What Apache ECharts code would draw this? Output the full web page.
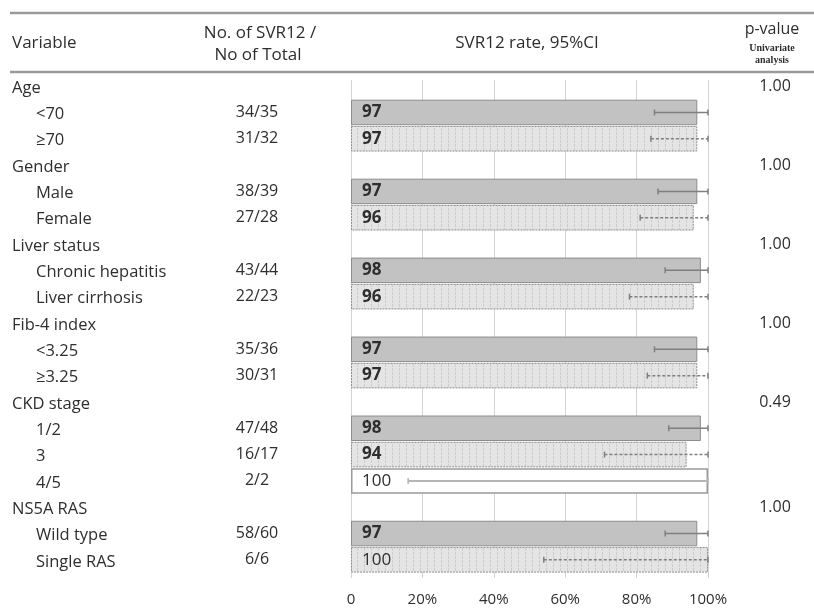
<!DOCTYPE html>
<html>
<head>
<meta charset="utf-8">
<script src="https://cdn.jsdelivr.net/npm/echarts@6/dist/echarts.min.js"></script>
<style>
  html, body { margin: 0; padding: 0; background: #ffffff; }
  #chart { width: 814px; height: 608px; }
</style>
</head>
<body>
<div id="chart"></div>
<script>
// Subgroup table: group headers have no rate.
const rowLabels = ['Age', '<70', '≥70', 'Gender', 'Male', 'Female', 'Liver status',
  'Chronic hepatitis', 'Liver cirrhosis', 'Fib-4 index', '<3.25', '≥3.25', 'CKD stage',
  '1/2', '3', '4/5', 'NS5A RAS', 'Wild type', 'Single RAS'];
const counts = ['', '34/35', '31/32', '', '38/39', '27/28', '', '43/44', '22/23', '',
  '35/36', '30/31', '', '47/48', '16/17', '2/2', '', '58/60', '6/6'];
const rates = [null, 97, 97, null, 97, 96, null, 98, 96, null, 97, 97, null, 98, 94, 100, null, 97, 100];
const ciLower = [null, 85, 84, null, 86, 81, null, 88, 78, null, 85, 83, null, 89, 71, 16, null, 88, 54];
const ciUpper = [null, 100, 100, null, 100, 100, null, 100, 100, null, 100, 100, null, 100, 100, 100, null, 100, 100];
const pValues = ['1.00', '', '', '1.00', '', '', '1.00', '', '', '1.00', '', '', '0.49', '', '', '', '1.00', '', ''];
const xTickLabels = ['0', '20%', '40%', '60%', '80%', '100%'];

const FONT = '"Open Sans", Lato, sans-serif';
const TEXT = '#2e2e2e';

// position of each row inside its group (0 = first subgroup)
const rankInGroup = [];
let lastHeader = -1;
rates.forEach((v, i) => {
  if (v === null) { lastHeader = i; rankInGroup.push(-1); }
  else rankInGroup.push(i - lastHeader - 1);
});

// light fill with faint vertical dotted hatching
function hatchPattern() {
  const c = document.createElement('canvas');
  c.width = 7; c.height = 4;
  const g = c.getContext('2d');
  g.fillStyle = '#e4e4e4';
  g.fillRect(0, 0, 7, 4);
  g.fillStyle = '#cdcdcd';
  g.fillRect(0, 0, 1, 3);
  return c;
}
const hatch = hatchPattern();

function barStyle(rank) {
  if (rank === 0) return { color: '#c2c2c2', borderColor: '#8c8c8c', borderWidth: 1 };
  if (rank === 1) return { color: { image: hatch, repeat: 'repeat' }, borderColor: '#8f8f8f', borderWidth: 1, borderType: [2, 1] };
  return { color: '#ffffff', borderColor: '#9a9a9a', borderWidth: 1.5 };
}

const barData = rates.map((v, i) => v === null ? '-' : {
  value: v,
  itemStyle: barStyle(rankInGroup[i]),
  label: { fontWeight: v >= 100 ? 'normal' : 'bold' }
});

const ciData = [];
rates.forEach((v, i) => {
  if (v !== null) ciData.push([i, ciLower[i], ciUpper[i], rankInGroup[i]]);
});

const chart = echarts.init(document.getElementById('chart'), null, { renderer: 'canvas' });

chart.setOption({
  backgroundColor: '#ffffff',
  animation: false,
  textStyle: { fontFamily: FONT },
  grid: [
    { left: 351, right: 106, top: 73, height: 500, outerBoundsMode: 'none' },
    { left: 351, right: 106, top: 80, bottom: 30, outerBoundsMode: 'none' }
  ],
  xAxis: [
    { gridIndex: 0, type: 'value', min: 0, max: 100, show: false },
    {
      gridIndex: 1, type: 'value', min: 0, max: 100, interval: 20,
      axisLine: { show: false }, axisTick: { show: false },
      splitLine: { show: true, lineStyle: { color: '#d4d4d4', width: 1 } },
      axisLabel: {
        margin: 14, color: TEXT, fontSize: 15, fontFamily: FONT,
        formatter: (val) => xTickLabels[Math.round(val / 20)]
      }
    }
  ],
  yAxis: [
    {
      gridIndex: 0, type: 'category', data: rowLabels, inverse: true,
      axisLine: { show: false }, axisTick: { show: false }, splitLine: { show: false },
      axisLabel: {
        align: 'left', margin: 339, fontFamily: FONT,
        formatter: (val, idx) => rates[idx] === null ? '{h|' + val + '}' : '{s|' + val + '}',
        rich: {
          h: { color: TEXT, fontSize: 16.5, fontFamily: FONT, padding: [4, 0, 0, 0] },
          s: { color: TEXT, fontSize: 16.5, fontFamily: FONT, padding: [4, 0, 0, 24] }
        }
      }
    },
    {
      gridIndex: 0, type: 'category', data: counts, inverse: true, position: 'left',
      axisLine: { show: false }, axisTick: { show: false }, splitLine: { show: false },
      axisLabel: { align: 'center', margin: 94, color: TEXT, fontSize: 16, fontFamily: FONT, padding: [4, 0, 0, 0] }
    },
    {
      gridIndex: 0, type: 'category', data: pValues, inverse: true, position: 'right',
      axisLine: { show: false }, axisTick: { show: false }, splitLine: { show: false },
      axisLabel: { align: 'center', margin: 67, color: TEXT, fontSize: 16, fontFamily: FONT }
    },
    { gridIndex: 1, type: 'value', show: false }
  ],
  series: [
    {
      type: 'bar', xAxisIndex: 0, yAxisIndex: 0,
      data: barData, barCategoryGap: '3%',
      label: {
        show: true, position: 'insideLeft', distance: 11,
        color: '#2e2e2e', fontSize: 17, fontFamily: FONT, formatter: '{c}'
      },
      z: 3
    },
    {
      type: 'custom', xAxisIndex: 0, yAxisIndex: 0,
      data: ciData,
      encode: { x: [1, 2], y: 0 },
      renderItem: (params, api) => {
        const row = api.value(0);
        const lo = api.coord([api.value(1), row]);
        const hi = api.coord([api.value(2), row]);
        const rank = api.value(3);
        const color = rank === 2 ? '#b5b5b5' : '#7f7f7f';
        const style = { stroke: color, lineWidth: rank === 2 ? 2 : 1.5 };
        if (rank === 1) style.lineDash = [3, 2];
        const cap = 3;
        return {
          type: 'group',
          children: [
            { type: 'line', shape: { x1: lo[0], y1: lo[1], x2: hi[0], y2: hi[1] }, style: style },
            { type: 'line', shape: { x1: lo[0], y1: lo[1] - cap, x2: lo[0], y2: lo[1] + cap }, style: { stroke: color, lineWidth: 1.5 } },
            { type: 'line', shape: { x1: hi[0], y1: hi[1] - cap, x2: hi[0], y2: hi[1] + cap }, style: { stroke: color, lineWidth: 1.5 } }
          ]
        };
      },
      z: 4
    }
  ],
  graphic: [
    { type: 'line', shape: { x1: 10, y1: 13, x2: 814, y2: 13 }, style: { stroke: '#9a9a9a', lineWidth: 2.5 } },
    { type: 'line', shape: { x1: 10, y1: 72, x2: 814, y2: 72 }, style: { stroke: '#9a9a9a', lineWidth: 2.5 } },
    { type: 'text', x: 12, y: 43, style: { text: 'Variable', fill: TEXT, font: '17px ' + FONT, textVerticalAlign: 'middle' } },
    { type: 'text', x: 260, y: 33, style: { text: 'No. of SVR12 /', fill: TEXT, font: '17px ' + FONT, textAlign: 'center', textVerticalAlign: 'middle' } },
    { type: 'text', x: 258, y: 55, style: { text: 'No of Total', fill: TEXT, font: '17px ' + FONT, textAlign: 'center', textVerticalAlign: 'middle' } },
    { type: 'text', x: 527, y: 43, style: { text: 'SVR12 rate, 95%CI', fill: TEXT, font: '17px ' + FONT, textAlign: 'center', textVerticalAlign: 'middle' } },
    { type: 'text', x: 772, y: 29, style: { text: 'p-value', fill: TEXT, font: '16px ' + FONT, textAlign: 'center', textVerticalAlign: 'middle' } },
    { type: 'text', x: 772, y: 48, style: { text: 'Univariate', fill: TEXT, font: 'bold 10px "Liberation Serif", "DejaVu Serif", serif', textAlign: 'center', textVerticalAlign: 'middle' } },
    { type: 'text', x: 772, y: 60, style: { text: 'analysis', fill: TEXT, font: 'bold 10px "Liberation Serif", "DejaVu Serif", serif', textAlign: 'center', textVerticalAlign: 'middle' } }
  ]
});
</script>
</body>
</html>
